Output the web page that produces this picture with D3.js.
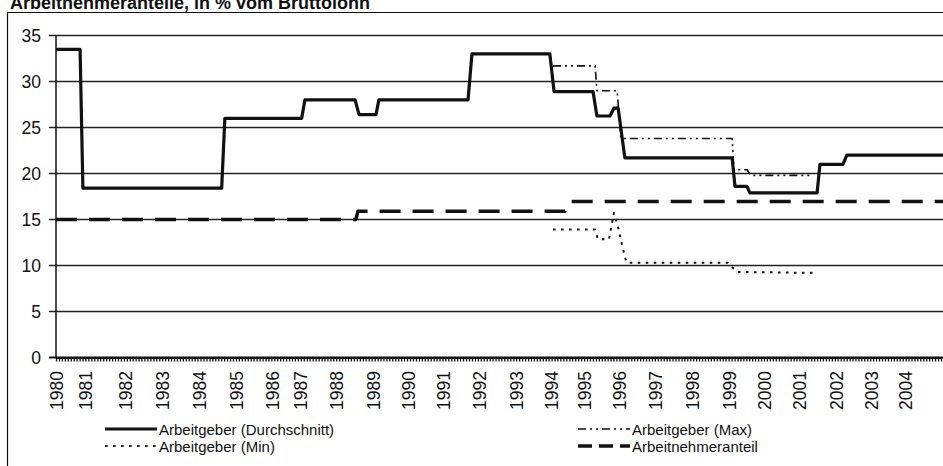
<!DOCTYPE html>
<html>
<head>
<meta charset="utf-8">
<script src="https://cdn.jsdelivr.net/npm/d3@7"></script>
<style>
  html, body { margin: 0; padding: 0; background: #fff; }
  svg { display: block; font-family: "Liberation Sans", Arial, sans-serif; }
</style>
</head>
<body>
<svg id="chart" width="943" height="466"></svg>
<script>
// Contribution rates in % of gross wage; x positions are decimal years.
const avgYears  = [1980.0, 1980.68, 1980.76, 1984.68, 1984.77, 1986.94, 1987.03, 1988.45, 1988.56, 1989.04,
                   1989.12, 1991.64, 1991.75, 1993.95, 1994.07, 1995.17, 1995.28, 1995.65, 1995.76, 1995.88,
                   1996.07, 1999.10, 1999.18, 1999.52, 1999.60, 2001.50, 2001.58, 2002.23, 2002.34, 2005.1];
const avgValues = [33.5, 33.5, 18.4, 18.4, 26, 26, 28, 28, 26.4, 26.4,
                   28, 28, 33, 33, 28.9, 28.9, 26.25, 26.25, 27.1, 27.1,
                   21.7, 21.7, 18.6, 18.6, 17.9, 17.9, 21.0, 21.0, 22.0, 22.0];

const maxYears  = [1994.04, 1995.23, 1995.28, 1995.85, 1995.96, 1999.10, 1999.15, 1999.52, 1999.63, 2001.38];
const maxValues = [31.7, 31.7, 29.0, 29.0, 23.8, 23.8, 20.4, 20.4, 19.8, 19.8];

const minYears  = [1994.04, 1995.23, 1995.31, 1995.62, 1995.76, 1995.88, 1996.07, 1996.13, 1998.98, 1999.24, 2001.38];
const minValues = [13.9, 13.9, 12.85, 12.85, 15.7, 14.1, 10.9, 10.3, 10.3, 9.3, 9.2];

const empYears  = [1980.0, 1988.47, 1988.53, 1994.38, 1994.52, 2005.1];
const empValues = [15, 15, 15.9, 15.9, 16.95, 16.95];

// Year labels on the category axis and where each one sits
const yearLabels = ["1980","1981","1982","1983","1984","1985","1986","1987","1988","1989","1990","1991","1992",
                    "1993","1994","1995","1996","1997","1998","1999","2000","2001","2002","2003","2004"];
const yearLabelAt = [1980.03, 1980.86, 1981.98, 1983.02, 1984.07, 1985.10, 1986.13, 1986.91, 1987.94, 1988.97,
                     1989.97, 1990.95, 1991.98, 1993.02, 1994.00, 1994.94, 1995.93, 1996.96, 1997.99, 1999.04,
                     2000.03, 2001.02, 2002.05, 2003.05, 2004.00];
const yTickValues = [0, 5, 10, 15, 20, 25, 30, 35];

const seriesNames = ["Arbeitgeber (Durchschnitt)", "Arbeitgeber (Min)", "Arbeitgeber (Max)", "Arbeitnehmeranteil"];
const titleText = "Arbeitnehmeranteile, in % vom Bruttolohn";

const svg = d3.select("#chart");
const W = 943;
const x = d3.scaleLinear().domain([1980, 2005]).range([56, 941]);
const y = d3.scaleLinear().domain([0, 35]).range([357.5, 35.5]);

const ink = "#111";
const styles = {
  avg: { width: 3.2, dash: null },
  min: { width: 2, dash: "2.6,5.4" },
  max: { width: 1.6, dash: "8,4,2,4,2,4" },
  emp: { width: 3.4, dash: "21,12" }
};

// frame
svg.append("path")
  .attr("d", `M7.5,466 V12.5 H${W}`)
  .attr("fill", "none").attr("stroke", ink).attr("stroke-width", 1.2);

// title (its upper part runs off the top edge)
svg.append("text")
  .attr("x", 10).attr("y", 9)
  .attr("font-size", 18).attr("font-weight", "bold").attr("fill", ink)
  .text(titleText);

// horizontal gridlines with y tick labels
const gy = svg.append("g");
gy.selectAll("line").data(yTickValues.filter(v => v > 0)).join("line")
  .attr("x1", 49).attr("x2", W)
  .attr("y1", d => y(d)).attr("y2", d => y(d))
  .attr("stroke", "#222").attr("stroke-width", 1.3);
gy.selectAll("text").data(yTickValues).join("text")
  .attr("x", 41).attr("y", d => y(d))
  .attr("text-anchor", "end").attr("dominant-baseline", "central")
  .attr("font-size", 17.5).attr("fill", ink)
  .text(d => d);

// y axis line
svg.append("line")
  .attr("x1", x(1980)).attr("x2", x(1980))
  .attr("y1", y(35)).attr("y2", y(0))
  .attr("stroke", ink).attr("stroke-width", 1.5);

// x axis: baseline, dense monthly tick marks, year labels
const xAxis = d3.axisBottom(x)
  .tickValues(d3.range(1980, 2005.1, 1 / 12))
  .tickSize(4).tickSizeOuter(0).tickFormat("");
const gx = svg.append("g").attr("transform", `translate(0,${y(0)})`).call(xAxis);
gx.select(".domain").attr("stroke", ink).attr("stroke-width", 2);
gx.selectAll(".tick line").attr("stroke", ink).attr("stroke-width", 1.3);
svg.append("line")
  .attr("x1", 49).attr("x2", W).attr("y1", y(0)).attr("y2", y(0))
  .attr("stroke", ink).attr("stroke-width", 2);

svg.append("g").selectAll("text").data(yearLabels).join("text")
  .attr("transform", (d, i) => `translate(${x(yearLabelAt[i])},371) rotate(-90)`)
  .attr("text-anchor", "end").attr("dominant-baseline", "central")
  .attr("font-size", 17.5).attr("fill", ink)
  .text(d => d);

// series lines
const line = d3.line().x(d => x(d[0])).y(d => y(d[1]));
function drawSeries(years, values, st) {
  svg.append("path")
    .datum(d3.zip(years, values))
    .attr("d", line)
    .attr("fill", "none").attr("stroke", ink)
    .attr("stroke-width", st.width)
    .attr("stroke-linejoin", "round")
    .attr("stroke-dasharray", st.dash);
}
drawSeries(empYears, empValues, styles.emp);
drawSeries(minYears, minValues, styles.min);
drawSeries(maxYears, maxValues, styles.max);
drawSeries(avgYears, avgValues, styles.avg);

// legend
const legendItems = [
  { name: seriesNames[0], st: styles.avg, lx: 105, ly: 429 },
  { name: seriesNames[2], st: styles.max, lx: 578, ly: 429 },
  { name: seriesNames[1], st: styles.min, lx: 105, ly: 446 },
  { name: seriesNames[3], st: { width: 3.4, dash: "14,7" }, lx: 578, ly: 446 }
];
const lg = svg.append("g");
legendItems.forEach(it => {
  lg.append("line")
    .attr("x1", it.lx).attr("x2", it.lx + 52)
    .attr("y1", it.ly).attr("y2", it.ly)
    .attr("stroke", ink).attr("stroke-width", it.st.width)
    .attr("stroke-dasharray", it.st.dash);
  lg.append("text")
    .attr("x", it.lx + 54).attr("y", it.ly)
    .attr("dominant-baseline", "central")
    .attr("font-size", 15).attr("fill", ink)
    .text(it.name);
});
</script>
</body>
</html>
